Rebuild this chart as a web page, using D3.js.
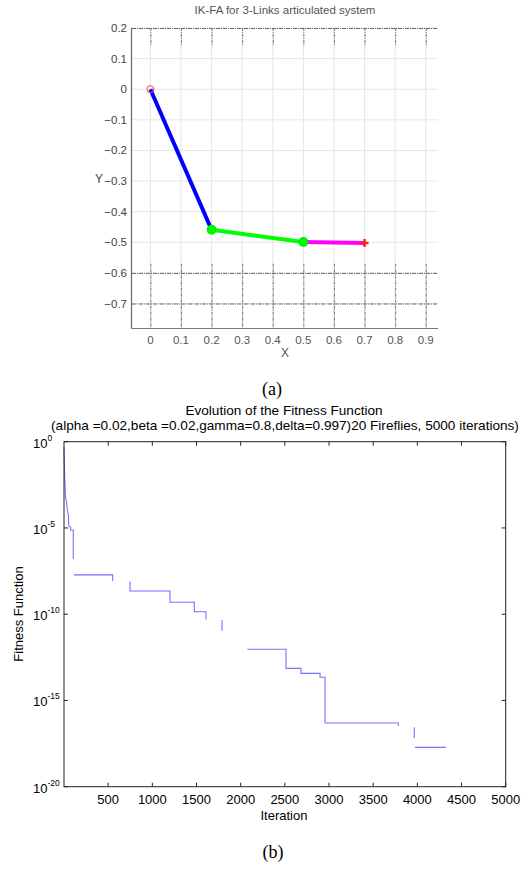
<!DOCTYPE html>
<html>
<head>
<meta charset="utf-8">
<script src="https://cdn.jsdelivr.net/npm/d3@7/dist/d3.min.js"></script>
<style>
  html, body { margin: 0; padding: 0; background: #fff; }
  svg { display: block; }
</style>
</head>
<body>
<svg id="chart" width="528" height="870"></svg>
<script>
// ---------- Data: (a) 3-link articulated system ----------
const jointX = [0, 0.2, 0.5, 0.7];
const jointY = [0, -0.459, -0.499, -0.502];
const linkColors = ["#0000ff", "#00ff00", "#ff00ff"];
const xTicksA = [0, 0.1, 0.2, 0.3, 0.4, 0.5, 0.6, 0.7, 0.8, 0.9];
const yTicksA = [0.2, 0.1, 0, -0.1, -0.2, -0.3, -0.4, -0.5, -0.6, -0.7];

// ---------- Data: (b) fitness evolution (NaN = gap in drawn curve) ----------
const iterations = [0, 8, 17, 30, 37, 50, 53, 60, 76, 76, 105, 105, NaN,
  113, 551, 551, NaN,
  747, 747, 1200, 1200, 1475, 1475, 1607, 1607, NaN,
  1789, 1789, NaN,
  2075, 2075, 2513, 2513, 2683, 2683, 2898, 2898, 2955, 2955, 3784, 3784, NaN,
  3965, 3965, NaN,
  3973, 4321];
const fitness = [5e-1, 1e-2, 6.3e-4, 3e-4, 1.1e-4, 5e-5, 1.5e-5, 1.2e-5, 1.1e-5, 7.6e-6, 7.6e-6, 1.6e-7, NaN,
  1.9e-8, 1.9e-8, 8.3e-9, NaN,
  7.9e-9, 2.2e-9, 2.2e-9, 4.9e-10, 4.9e-10, 1.4e-10, 1.4e-10, 5.0e-11, NaN,
  4.6e-11, 1.1e-11, NaN,
  9.3e-13, 9.3e-13, 9.3e-13, 7.2e-14, 7.2e-14, 3.7e-14, 3.7e-14, 2.2e-14, 2.2e-14, 4.9e-17, 4.9e-17, 3.3e-17, NaN,
  2.8e-17, 6.5e-18, NaN,
  1.9e-18, 1.9e-18];
const xTicksB = [500, 1000, 1500, 2000, 2500, 3000, 3500, 4000, 4500, 5000];
const yTicksB = [0, -5, -10, -15, -20];

const svg = d3.select("#chart");

// ================= (a) =================
const xA = d3.scaleLinear().domain([-0.06, 0.94]).range([132, 438]);
const yA = d3.scaleLinear().domain([-0.78, 0.2]).range([328, 28]);
const gA = svg.append("g");
const txtA = "#444";
const fontA = "Liberation Sans, Arial, sans-serif";

// light grid
gA.selectAll("line.hg").data(yTicksA).enter().append("line")
  .attr("x1", xA.range()[0]).attr("x2", xA.range()[1])
  .attr("y1", d => yA(d)).attr("y2", d => yA(d))
  .attr("stroke", "#e6e6e6").attr("stroke-width", 1);
gA.selectAll("line.vg").data(xTicksA).enter().append("line")
  .attr("y1", yA.range()[0]).attr("y2", yA.range()[1])
  .attr("x1", d => xA(d)).attr("x2", d => xA(d))
  .attr("stroke", "#e6e6e6").attr("stroke-width", 1);
// darker dash-dot grid portions (as in the scanned reference)
const darkRows = [0.2, -0.6, -0.7];
gA.selectAll("line.dh").data(darkRows).enter().append("line")
  .attr("x1", xA.range()[0]).attr("x2", xA.range()[1])
  .attr("y1", d => yA(d) + 0.5).attr("y2", d => yA(d) + 0.5)
  .attr("stroke", "#666").attr("stroke-width", 1).attr("stroke-dasharray", "4,1,1,1");
const darkBands = [[0.2, 0.14], [-0.57, -0.78]];
darkBands.forEach(b => {
  gA.selectAll(null).data(xTicksA).enter().append("line")
    .attr("x1", d => xA(d) + 0.5).attr("x2", d => xA(d) + 0.5)
    .attr("y1", yA(b[0])).attr("y2", yA(b[1]))
    .attr("stroke", "#777").attr("stroke-width", 1).attr("stroke-dasharray", "3,1,1,1");
});
// axes lines
gA.append("line").attr("x1", 131.5).attr("x2", 131.5).attr("y1", 28).attr("y2", 328.5)
  .attr("stroke", "#666").attr("stroke-width", 1.2);
gA.append("line").attr("x1", 131.5).attr("x2", 438).attr("y1", 328.5).attr("y2", 328.5)
  .attr("stroke", "#777").attr("stroke-width", 1.2);
// tick labels
gA.selectAll("text.yl").data(yTicksA).enter().append("text")
  .attr("x", 127).attr("y", d => yA(d)).attr("dy", "0.35em")
  .attr("text-anchor", "end").attr("font-family", fontA).attr("font-size", 11.5)
  .attr("fill", txtA).text(d => d3.format("")(d));
gA.selectAll("text.xl").data(xTicksA).enter().append("text")
  .attr("x", d => xA(d)).attr("y", 340).attr("dy", "0.35em")
  .attr("text-anchor", "middle").attr("font-family", fontA).attr("font-size", 11.5)
  .attr("fill", "#555").text(d => d3.format("")(d));
gA.append("text").attr("x", 285).attr("y", 353).attr("dy", "0.35em")
  .attr("text-anchor", "middle").attr("font-family", fontA).attr("font-size", 12)
  .attr("fill", "#555").text("X");
gA.append("text").attr("x", 99).attr("y", 179).attr("dy", "0.35em")
  .attr("text-anchor", "middle").attr("font-family", fontA).attr("font-size", 12)
  .attr("fill", txtA).text("Y");
gA.append("text").attr("x", 285).attr("y", 10).attr("dy", "0.35em")
  .attr("text-anchor", "middle").attr("font-family", fontA).attr("font-size", 11.5)
  .attr("fill", "#555").text("IK-FA for 3-Links articulated system");

// links
for (let i = 0; i < 3; i++) {
  gA.append("line")
    .attr("x1", xA(jointX[i])).attr("y1", yA(jointY[i]))
    .attr("x2", xA(jointX[i + 1])).attr("y2", yA(jointY[i + 1]))
    .attr("stroke", linkColors[i]).attr("stroke-width", 4).attr("stroke-linecap", "butt");
}
// green joint markers
gA.selectAll("circle.j").data([1, 2]).enter().append("circle")
  .attr("cx", i => xA(jointX[i])).attr("cy", i => yA(jointY[i]))
  .attr("r", 4).attr("fill", "#00ff00").attr("stroke", "#00ee00").attr("stroke-width", 2);
// base marker (red open circle)
gA.append("circle").attr("cx", xA(jointX[0])).attr("cy", yA(jointY[0]))
  .attr("r", 3.5).attr("fill", "none").attr("stroke", "#ff4040").attr("stroke-width", 1);
// end effector (red plus)
const ex = xA(jointX[3]), ey = yA(jointY[3]);
gA.append("path").attr("d", `M${ex - 4},${ey}H${ex + 4}M${ex},${ey - 4}V${ey + 4}`)
  .attr("stroke", "#ff2020").attr("stroke-width", 2.5);

// caption (a)
svg.append("text").attr("x", 272).attr("y", 389).attr("dy", "0.35em")
  .attr("text-anchor", "middle").attr("font-family", "Liberation Serif, Times New Roman, serif")
  .attr("font-size", 18).attr("fill", "#000").text("(a)");

// ================= (b) =================
const xB = d3.scaleLinear().domain([0, 5000]).range([64, 505.7]);
const yB = d3.scaleLog().domain([1e-20, 1]).range([786.7, 441.7]);
const gB = svg.append("g");
const fontB = "Liberation Sans, Arial, sans-serif";
const L = xB.range()[0], R = xB.range()[1], T = yB.range()[1], B = yB.range()[0];

// curve
const line = d3.line()
  .defined((d, i) => !isNaN(iterations[i]) && !isNaN(fitness[i]))
  .x((d, i) => xB(iterations[i]))
  .y((d, i) => yB(fitness[i]));
gB.append("path").datum(iterations).attr("d", line)
  .attr("fill", "none").attr("stroke", "#7373ff").attr("stroke-width", 1.1);

// box
gB.append("rect").attr("x", L).attr("y", T).attr("width", R - L).attr("height", B - T)
  .attr("fill", "none").attr("stroke", "#222").attr("stroke-width", 1);
// ticks (inward, bottom + top)
xTicksB.forEach(t => {
  gB.append("line").attr("x1", xB(t)).attr("x2", xB(t)).attr("y1", B).attr("y2", B - 4)
    .attr("stroke", "#222");
  gB.append("line").attr("x1", xB(t)).attr("x2", xB(t)).attr("y1", T).attr("y2", T + 4)
    .attr("stroke", "#222");
});
yTicksB.forEach(e => {
  const y = yB(Math.pow(10, e));
  gB.append("line").attr("x1", L).attr("x2", L + 4).attr("y1", y).attr("y2", y).attr("stroke", "#222");
  gB.append("line").attr("x1", R).attr("x2", R - 4).attr("y1", y).attr("y2", y).attr("stroke", "#222");
});
// tick labels
gB.selectAll("text.xb").data(xTicksB).enter().append("text")
  .attr("x", d => xB(d)).attr("y", 799).attr("dy", "0.35em")
  .attr("text-anchor", "middle").attr("font-family", fontB).attr("font-size", 13)
  .attr("fill", "#000").text(d => d);
const yl = gB.selectAll("text.yb").data(yTicksB).enter().append("text")
  .attr("x", 33).attr("y", d => yB(Math.pow(10, d)) + 6)
  .attr("font-family", fontB).attr("font-size", 13).attr("fill", "#000");
yl.append("tspan").text("10");
yl.append("tspan").attr("dy", -7).attr("font-size", 8.5).text(d => d);

// titles
gB.append("text").attr("x", 284).attr("y", 410).attr("dy", "0.35em")
  .attr("text-anchor", "middle").attr("font-family", fontB).attr("font-size", 13.6)
  .attr("fill", "#000").text("Evolution of the Fitness Function");
gB.append("text").attr("x", 285).attr("y", 425).attr("dy", "0.35em")
  .attr("text-anchor", "middle").attr("font-family", fontB).attr("font-size", 13.6)
  .attr("fill", "#000").text("(alpha =0.02,beta =0.02,gamma=0.8,delta=0.997)20 Fireflies, 5000 iterations)");
gB.append("text").attr("x", 284).attr("y", 815).attr("dy", "0.35em")
  .attr("text-anchor", "middle").attr("font-family", fontB).attr("font-size", 13)
  .attr("fill", "#000").text("Iteration");
gB.append("text").attr("transform", "translate(18,614) rotate(-90)").attr("dy", "0.35em")
  .attr("text-anchor", "middle").attr("font-family", fontB).attr("font-size", 13)
  .attr("fill", "#000").text("Fitness Function");

// caption (b)
svg.append("text").attr("x", 273).attr("y", 852).attr("dy", "0.35em")
  .attr("text-anchor", "middle").attr("font-family", "Liberation Serif, Times New Roman, serif")
  .attr("font-size", 18).attr("fill", "#000").text("(b)");
</script>
</body>
</html>
